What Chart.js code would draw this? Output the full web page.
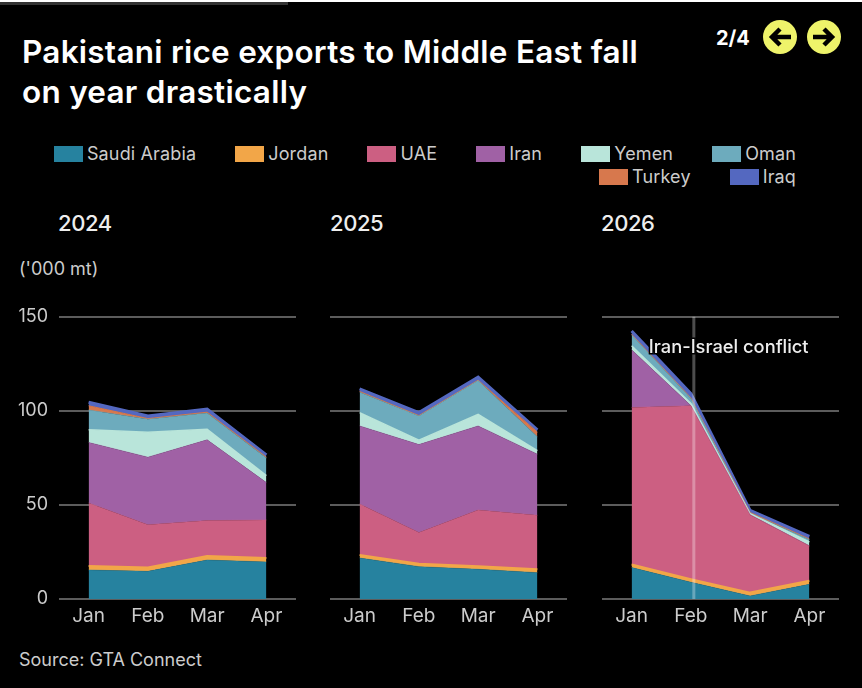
<!DOCTYPE html>
<html>
<head>
<meta charset="utf-8">
<title>Pakistani rice exports</title>
<script src="https://cdn.jsdelivr.net/npm/chart.js@4/dist/chart.umd.min.js"></script>
<style>
  html, body { margin: 0; padding: 0; background: #000; }
  body { position: relative; width: 862px; height: 688px; overflow: hidden; font-family: Inter, sans-serif; color: #ddd; }
  .abs { position: absolute; white-space: nowrap; }
  .topline { left: 0; top: 0; width: 862px; height: 2px; background: #fff; }
  .progress { left: 0; top: 2px; width: 288px; height: 3px; background: #333; }
  h1 { position: absolute; left: 22px; top: 32px; margin: 0; font-size: 31.5px; line-height: 40px; font-weight: 600; color: #fff; letter-spacing: 0.25px; }
  .pager { left: 716px; top: 26px; font-size: 20px; font-weight: 700; color: #fff; }
  .year { top: 210px; font-size: 22px; font-weight: 500; color: #eee; letter-spacing: -0.4px; }
  .unit { left: 19px; top: 258px; font-size: 18px; color: #ccc; }
  .source { left: 19px; top: 649px; font-size: 18px; color: #ccc; }
  #legend { position: absolute; left: 0; top: 142px; width: 796px; display: flex; flex-wrap: wrap; justify-content: flex-end; font-size: 18px; line-height: 23px; color: #ccc; letter-spacing: 0.15px; }
  #legend .item { display: flex; align-items: center; margin-left: 39px; }
  #legend .swatch { width: 29px; height: 16px; margin-right: 4px; }
  #legend .brk { flex-basis: 100%; height: 0; }
  canvas { position: absolute; top: 295px; }
</style>
</head>
<body>
<div class="abs topline"></div>
<div class="abs progress"></div>
<h1>Pakistani rice exports to Middle East fall<br>on year drastically</h1>
<div class="abs pager">2/4</div>
<svg class="abs" style="left:760px;top:17px" width="84" height="40" viewBox="0 0 84 40">
  <circle cx="20" cy="20" r="17" fill="#eef36a"/>
  <circle cx="64" cy="20" r="17" fill="#eef36a"/>
  <path d="M31 20H12M20 12l-8 8 8 8" fill="none" stroke="#000" stroke-width="4.5"/>
  <path d="M53 20H72M64 12l8 8-8 8" fill="none" stroke="#000" stroke-width="4.5"/>
</svg>
<div id="legend"></div>
<div class="abs year" style="left:58px">2024</div>
<div class="abs year" style="left:330px">2025</div>
<div class="abs year" style="left:601px">2026</div>
<div class="abs unit">('000 mt)</div>
<canvas id="c2024" width="300" height="335" style="left:0"></canvas>
<canvas id="c2025" width="300" height="335" style="left:271px"></canvas>
<canvas id="c2026" width="300" height="335" style="left:543px"></canvas>
<div class="abs source">Source: GTA Connect</div>

<script>
const months = ['Jan', 'Feb', 'Mar', 'Apr'];
const countries = ['Saudi Arabia', 'Jordan', 'UAE', 'Iran', 'Yemen', 'Oman', 'Turkey', 'Iraq'];
const colors = ['#26829f', '#f2a648', '#cc5f82', '#a061a5', '#b9e5da', '#6dabbd', '#d7784d', '#5468c0'];
const strokeWidths = [0.5, 2, 0.5, 0.5, 1.5, 0.5, 1, 3]; // thin bands need a heavier edge
const yTicks = [0, 50, 100, 150];

// one row per country, same order as above
const values2024 = [
  [15.4, 14.7, 20.7, 19.7],
  [2.1, 2.1, 2.2, 2.1],
  [33.5, 22.7, 18.8, 20.2],
  [32.2, 35.9, 42.9, 19.9],
  [6.7, 13.3, 5.6, 3.7],
  [10.6, 6.9, 8.6, 9.4],
  [2.2, 0.3, 0.5, 0.4],
  [1.9, 1.4, 1.6, 1.2]
];
const values2025 = [
  [21.8, 17.2, 15.8, 14],
  [1.6, 1.6, 1.6, 1.8],
  [27.1, 16.5, 29.9, 28.7],
  [41.5, 46.8, 44.7, 32.5],
  [7.1, 2.3, 6.2, 1.9],
  [10.8, 12.9, 17.9, 7.4],
  [0.4, 0.2, 0.2, 2.4],
  [1.4, 1.6, 1.6, 1.2]
];
const values2026 = [
  [16.7, 8.9, 1.6, 7.8],
  [1.6, 1.6, 1.8, 1.9],
  [83.5, 92.2, 41.3, 18.5],
  [30.7, 0.1, 0.1, 0.1],
  [2.1, 1.2, 0.5, 2],
  [5.8, 2.6, 0.3, 1.3],
  [0.3, 0.3, 0.4, 0.3],
  [1.8, 2.2, 1.1, 1.4]
];

// legend
const legend = document.getElementById('legend');
countries.forEach((name, i) => {
  if (i === 6) {
    const brk = document.createElement('div');
    brk.className = 'brk';
    legend.appendChild(brk);
  }
  const item = document.createElement('div');
  item.className = 'item';
  item.innerHTML = '<span class="swatch" style="background:' + colors[i] + '"></span>' + name;
  legend.appendChild(item);
});

// vertical marker for the conflict, only on the 2026 panel
const conflictLine = {
  id: 'conflictLine',
  afterDatasetsDraw(chart) {
    const { ctx, chartArea, scales } = chart;
    const x = scales.x.getPixelForValue(1.05);
    const labelY = scales.y.getPixelForValue(133.5);
    ctx.save();
    ctx.strokeStyle = 'rgba(255,255,255,0.3)';
    ctx.lineWidth = 3;
    ctx.beginPath();
    ctx.moveTo(x, chartArea.top);
    ctx.lineTo(x, chartArea.bottom);
    ctx.stroke();
    ctx.font = '500 18.3px Inter, sans-serif';
    ctx.textBaseline = 'middle';
    ctx.lineWidth = 3;
    ctx.strokeStyle = '#000';
    ctx.strokeText('Iran-Israel conflict', x - 45, labelY);
    ctx.fillStyle = '#eee';
    ctx.fillText('Iran-Israel conflict', x - 45, labelY);
    ctx.restore();
  }
};

function makeChart(id, rows, showYLabels, plugins) {
  return new Chart(document.getElementById(id), {
    type: 'line',
    data: {
      labels: months,
      datasets: rows.map((row, i) => ({
        label: countries[i],
        data: row,
        backgroundColor: colors[i],
        borderColor: colors[i],
        borderWidth: strokeWidths[i],
        fill: 'stack',
        pointRadius: 0,
        tension: 0
      }))
    },
    plugins: plugins || [],
    options: {
      responsive: false,
      animation: false,
      layout: { padding: { top: 12, right: 4 } },
      plugins: { legend: { display: false }, title: { display: false } },
      scales: {
        x: {
          offset: true,
          grid: { display: false, tickLength: 0 },
          border: { display: false },
          ticks: { color: '#ccc', font: { family: 'Inter', size: 19 }, padding: 6, maxRotation: 0 },
          afterFit(scale) { scale.height = 31; }
        },
        y: {
          stacked: true,
          min: 0,
          max: 150,
          afterBuildTicks(scale) { scale.ticks = yTicks.map(v => ({ value: v })); },
          grid: { color: '#5c5c5c', lineWidth: 2, drawTicks: false },
          border: { display: false },
          ticks: {
            color: '#ccc',
            font: { family: 'Inter', size: 18 },
            padding: 11,
            callback: v => (showYLabels ? v : '')
          },
          afterFit(scale) { scale.width = 59; }
        }
      }
    }
  });
}

makeChart('c2024', values2024, true);
makeChart('c2025', values2025, false);
makeChart('c2026', values2026, false, [conflictLine]);
</script>
</body>
</html>
